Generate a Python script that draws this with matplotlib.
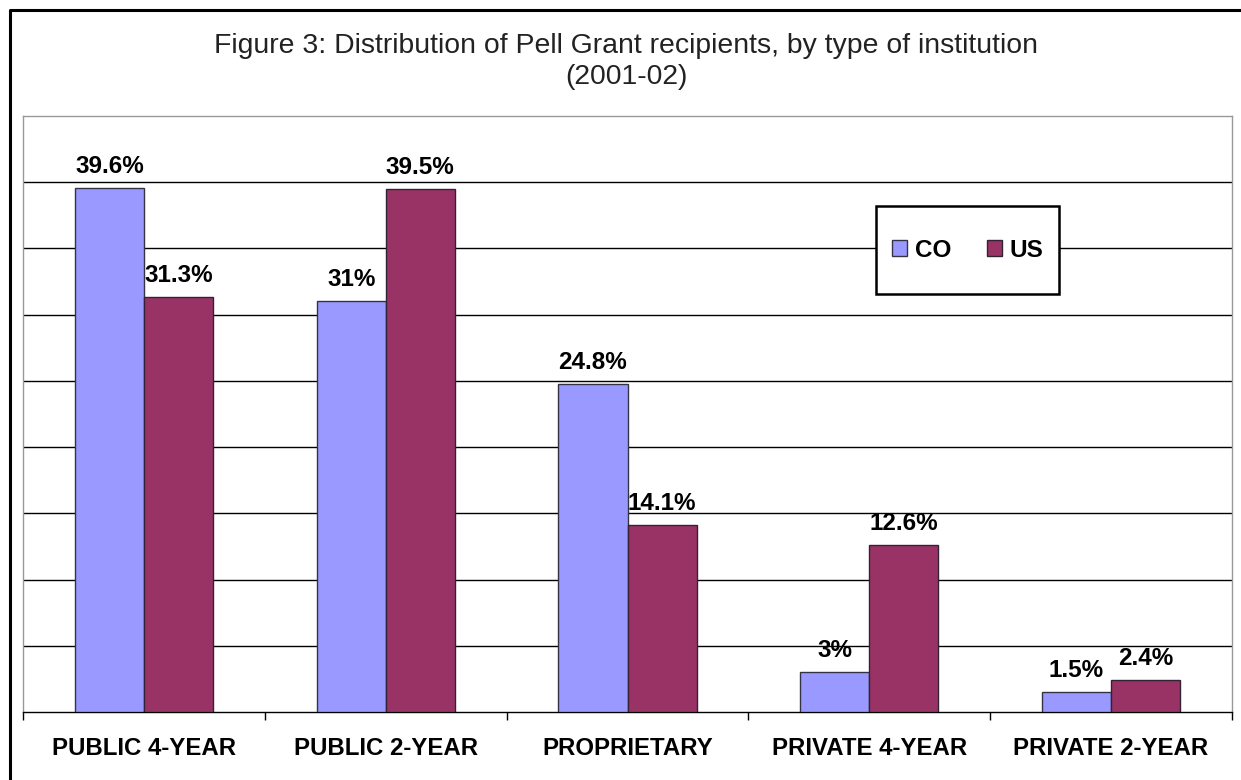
import matplotlib
matplotlib.use("Agg")
import matplotlib.pyplot as plt
from matplotlib.lines import Line2D
from matplotlib.patches import Rectangle
import numpy as np

plt.rcParams["font.family"] = ["Liberation Sans", "DejaVu Sans"]

categories = ["PUBLIC 4-YEAR", "PUBLIC 2-YEAR", "PROPRIETARY", "PRIVATE 4-YEAR", "PRIVATE 2-YEAR"]
co_values = [39.6, 31, 24.8, 3, 1.5]
us_values = [31.3, 39.5, 14.1, 12.6, 2.4]
co_labels = ["39.6%", "31%", "24.8%", "3%", "1.5%"]
us_labels = ["31.3%", "39.5%", "14.1%", "12.6%", "2.4%"]
series_names = ["CO", "US"]

W, H = 1241, 780
fig = plt.figure(figsize=(W / 100, H / 100), dpi=100)
ax = fig.add_axes([23 / W, (H - 712) / H, 1209 / W, 596 / H])

x = np.arange(len(categories))
bw = 1 / 3.5
b1 = ax.bar(x - bw / 2, co_values, bw, color="#9999FF", edgecolor="#333344",
            linewidth=1, label=series_names[0], zorder=3)
b2 = ax.bar(x + bw / 2, us_values, bw, color="#993366", edgecolor="#332233",
            linewidth=1, label=series_names[1], zorder=3)

for bars, labs in ((b1, co_labels), (b2, us_labels)):
    for rect, lab in zip(bars, labs):
        ax.annotate(lab, (rect.get_x() + rect.get_width() / 2, rect.get_height()),
                    xytext=(0, 10), textcoords="offset pixels", ha="center", va="bottom",
                    fontsize=17.5, fontweight="bold")

ax.set_xlim(-0.5, len(categories) - 0.5)
ax.set_ylim(0, 45)
ax.set_yticks(np.arange(5, 45, 5))
ax.yaxis.grid(True, color="black", linewidth=1, zorder=0)
ax.tick_params(axis="y", length=0, labelleft=False)

ax.set_xticks(x)
ax.set_xticklabels(categories, fontsize=17.3, fontweight="bold")
ax.set_xticks(np.arange(-0.5, len(categories), 1), minor=True)
ax.tick_params(axis="x", which="major", length=0, pad=18)
ax.tick_params(axis="x", which="minor", length=6, width=1, color="black")

for side in ("left", "top", "right"):
    ax.spines[side].set_color("#999999")
    ax.spines[side].set_linewidth(1)
ax.spines["bottom"].set_color("black")
ax.spines["bottom"].set_linewidth(1)

# legend box drawn separately so its padding matches the original
ax.add_patch(Rectangle((0.7056, 0.7013), 0.1514, 0.1477, transform=ax.transAxes,
                       facecolor="white", edgecolor="black", linewidth=1.8, zorder=4))
leg = ax.legend(loc="center", bbox_to_anchor=(0.7816, 0.775), ncol=2, frameon=False,
                prop={"weight": "bold", "size": 17.5}, handlelength=0.62, handleheight=0.62,
                handletextpad=0.33, columnspacing=1.45, borderpad=0)
leg.set_zorder(5)

fig.text(626 / W, 1 - 46 / H, "Figure 3: Distribution of Pell Grant recipients, by type of institution",
         ha="center", va="center", fontsize=20.4, color="#222222")
fig.text(626 / W, 1 - 77 / H, "(2001-02)", ha="center", va="center", fontsize=20.4, color="#222222")

fig.add_artist(Line2D([10 / W, 10 / W, 1], [0, 1 - 10 / H, 1 - 10 / H],
                      transform=fig.transFigure, color="black", linewidth=2.2))

fig.savefig("out.png", dpi=100)
